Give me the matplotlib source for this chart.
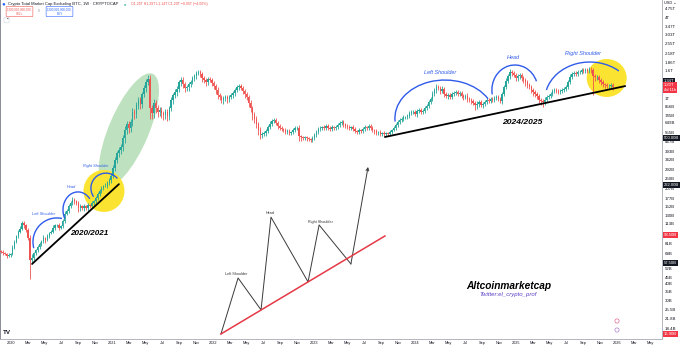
import numpy as np
import pandas as pd
import matplotlib
matplotlib.use('Agg')
import matplotlib.pyplot as plt
import matplotlib.dates as mdates
from matplotlib.patches import Ellipse, Arc
from matplotlib.ticker import NullLocator
from matplotlib.transforms import ScaledTranslation

plt.rcParams['font.family'] = ['Liberation Sans', 'DejaVu Sans']

# weekly closes in billions USD (first week = 2019-11-25)
closes = [
    69.5, 68, 67, 65, 66, 67, 75, 83, 92, 99,
    104, 115, 110, 102, 89, 60, 63, 68, 72, 76,
    80, 84, 89, 86, 92, 97, 99, 106, 110, 111,
    106, 109, 119, 135, 142, 154, 163, 171, 168, 163,
    149, 154, 149, 154, 149, 157, 154, 163, 168, 177,
    190, 200, 211, 219, 219, 230, 242, 260, 298, 342,
    386, 407, 428, 500, 575, 638, 595, 660, 785, 758,
    886, 966, 900, 1070, 1190, 1320, 1390, 841, 771, 917,
    841, 785, 812, 771, 745, 785, 732, 841, 966, 1050,
    1110, 1170, 1320, 1370, 1270, 1190, 1210, 1270, 1320, 1410,
    1460, 1540, 1570, 1520, 1410, 1370, 1320, 1390, 1370, 1300,
    1230, 1150, 1050, 1020, 966, 1000, 1020, 983, 1020, 1050,
    1090, 1150, 1210, 1230, 1190, 1130, 1070, 1020, 917, 841,
    745, 695, 638, 575, 527, 536, 546, 565, 605, 638,
    671, 683, 649, 616, 595, 585, 575, 555, 565, 546,
    555, 575, 595, 600, 515, 505, 500, 505, 498, 490,
    483, 500, 527, 555, 585, 595, 605, 595, 616, 595,
    585, 605, 595, 605, 627, 649, 660, 638, 616, 605,
    595, 605, 585, 565, 555, 575, 565, 585, 605, 595,
    616, 595, 575, 565, 546, 555, 536, 546, 536, 546,
    536, 555, 575, 595, 627, 660, 683, 695, 720, 720,
    732, 771, 785, 785, 758, 798, 812, 785, 798, 841,
    871, 933, 983, 1070, 1150, 1210, 1190, 1130, 1170, 1070,
    1040, 1050, 1020, 1070, 1090, 1110, 1070, 1090, 1040, 1020,
    1040, 983, 966, 950, 917, 886, 900, 933, 886, 900,
    933, 966, 950, 983, 966, 1000, 1020, 983, 950, 1070,
    1210, 1340, 1460, 1570, 1540, 1490, 1410, 1460, 1490, 1410,
    1370, 1320, 1250, 1210, 1150, 1110, 1070, 1040, 966, 950,
    933, 966, 1020, 1040, 1070, 1130, 1150, 1130, 1110, 1130,
    1150, 1170, 1210, 1320, 1440, 1520, 1540, 1520, 1570, 1570,
    1620, 1600, 1620, 1600, 1650, 1620, 1460, 1430, 1440, 1370,
    1320, 1270, 1250, 1230, 1230, 1250, 1200,
]
first_open = 71

# wick lengths beyond the body, percent
wick_up = [
    2, 3, 2, 2, 3, 2, 4, 3, 2, 3, 5, 4, 3, 2, 3, 4, 6, 3, 2, 3,
    3, 2, 4, 2, 3, 2, 3, 4, 3, 2, 3, 2, 4, 5, 3, 4, 3, 5, 3, 2,
    3, 4, 2, 3, 2, 3, 2, 3, 2, 4, 3, 4, 3, 2, 4, 3, 4, 5, 6, 5,
    4, 5, 6, 5, 7, 6, 5, 6, 7, 5, 6, 5, 6, 4, 5, 5, 7, 8, 6, 7,
    6, 5, 6, 5, 4, 6, 5, 4, 5, 4, 5, 6, 4, 5, 5, 4, 3, 4, 3, 4,
    3, 3, 4, 3, 4, 3, 4, 3, 4, 3, 3, 4, 5, 4, 3, 4, 3, 4, 3, 3,
    3, 4, 3, 4, 3, 4, 3, 4, 3, 5, 4, 6, 5, 4, 6, 3, 4, 3, 4, 5,
    3, 4, 3, 3, 4, 3, 2, 3, 4, 3, 2, 3, 4, 3, 5, 3, 2, 3, 2, 3,
    2, 3, 4, 3, 4, 3, 2, 3, 4, 3, 4, 3, 2, 3, 4, 3, 4, 3, 2, 3,
    3, 2, 3, 4, 2, 3, 2, 3, 4, 2, 3, 4, 3, 2, 3, 2, 3, 2, 3, 2,
    2, 3, 2, 4, 3, 4, 3, 4, 3, 2, 3, 4, 3, 4, 3, 4, 3, 4, 3, 4,
    4, 3, 4, 5, 4, 5, 4, 4, 5, 3, 4, 3, 4, 3, 4, 3, 4, 3, 4, 3,
    3, 4, 3, 4, 3, 4, 5, 4, 3, 4, 3, 4, 3, 4, 3, 4, 3, 4, 3, 4,
    4, 5, 4, 5, 3, 4, 3, 4, 3, 4, 3, 4, 3, 4, 3, 4, 3, 4, 3, 4,
    4, 5, 4, 3, 4, 3, 4, 3, 4, 3, 4, 3, 4, 4, 5, 4, 3, 4, 3, 4,
    3, 4, 3, 4, 3, 4, 3, 4, 3, 4, 3, 4, 3, 4, 3, 4, 3,
]
wick_dn = [
    2, 3, 2, 3, 2, 3, 2, 3, 2, 3, 3, 2, 4, 3, 4, 27, 6, 4, 3, 4,
    3, 4, 3, 5, 3, 4, 3, 3, 4, 3, 4, 3, 3, 4, 3, 4, 3, 4, 5, 4,
    6, 5, 4, 5, 4, 6, 4, 3, 4, 3, 3, 4, 3, 4, 3, 4, 3, 5, 4, 6,
    5, 6, 7, 6, 8, 7, 9, 6, 7, 8, 6, 7, 8, 6, 5, 6, 5, 18, 10, 8,
    9, 8, 7, 9, 8, 7, 9, 6, 5, 6, 5, 6, 5, 6, 7, 6, 5, 6, 5, 4,
    4, 5, 4, 5, 6, 5, 6, 5, 4, 6, 5, 6, 7, 6, 5, 6, 5, 6, 5, 4,
    4, 5, 4, 5, 4, 5, 6, 5, 7, 6, 8, 7, 6, 8, 7, 5, 4, 5, 4, 4,
    4, 3, 4, 5, 4, 3, 4, 3, 4, 3, 3, 4, 3, 4, 7, 6, 4, 3, 4, 3,
    4, 3, 3, 4, 3, 4, 3, 3, 4, 3, 4, 3, 4, 3, 3, 4, 3, 5, 4, 3,
    4, 3, 4, 3, 4, 3, 3, 4, 3, 4, 3, 3, 4, 5, 3, 4, 3, 4, 3, 3,
    3, 2, 3, 2, 3, 4, 3, 4, 3, 4, 3, 4, 3, 4, 3, 5, 4, 3, 4, 3,
    3, 4, 3, 4, 4, 5, 4, 5, 4, 5, 4, 5, 4, 3, 4, 3, 4, 3, 4, 5,
    4, 5, 4, 5, 4, 8, 6, 5, 4, 5, 4, 3, 4, 3, 4, 3, 4, 3, 4, 5,
    3, 4, 3, 4, 5, 4, 5, 4, 5, 4, 5, 6, 5, 4, 5, 6, 5, 6, 5, 6,
    8, 5, 4, 3, 4, 3, 4, 3, 4, 3, 4, 3, 4, 3, 4, 3, 4, 3, 4, 3,
    3, 4, 3, 4, 3, 5, 28, 6, 5, 6, 5, 4, 5, 4, 5, 4, 5,
]

# price axis labels (billions)
tick_vals = [4750, 4000, 3470, 3030, 2550, 2180, 1860, 1600, 1000, 856, 745,
             649, 555, 467, 393, 342, 292, 250, 207, 177, 152, 130, 113,
             81, 68, 52, 45, 40, 35, 30, 25.5, 21.8, 18.4]
black_marks = [1340, 500, 222, 57.5]
red_marks = [93.5, 16.9]

# drawings on the chart (date, price in billions)
trend_2020 = (['2020-03-17', '2021-01-25'], [56.5, 225])
trend_2024 = (['2023-09-14', '2026-01-30'], [509, 1230])
pattern_dates = ['2022-01-29', '2022-04-01', '2022-06-23', '2022-07-29',
                 '2022-12-10', '2023-01-19', '2023-05-14', '2023-07-15']
pattern_prices = [16.8, 44.3, 25.5, 127, 41.4, 111, 56.5, 303]
neck_dates = ['2022-01-29', '2023-09-14']
neck_prices = [16.8, 91.7]

GREEN = '#26a69a'
RED = '#ef5350'
BLUE = '#2f5bea'
YELLOW = '#fbe431'

fig = plt.figure(figsize=(6.8, 3.45), dpi=100)
ax = fig.add_axes([0, 6 / 345, 662 / 680, 339 / 345])
ax.set_yscale('log')

dates = pd.date_range('2019-11-25', periods=len(closes), freq='7D')
x = mdates.date2num(dates)
c = np.array(closes, float)
o = np.r_[first_open, c[:-1]]
hi = np.maximum(o, c) * (1 + np.array(wick_up) / 100)
lo = np.minimum(o, c) * (1 - np.array(wick_dn) / 100)
cols = np.where(c >= o, GREEN, RED)

ax.vlines(x, lo, hi, colors=cols, lw=0.6, zorder=3)
ax.bar(x, np.abs(c - o), bottom=np.minimum(o, c), width=5.0, color=cols,
       lw=0, zorder=3)


def d(s):
    return mdates.date2num(pd.Timestamp(s))


def anchored(date, price):
    # shapes sized in inches, pinned to a date/price point
    return fig.dpi_scale_trans + ScaledTranslation(d(date), price, ax.transData)


# highlight shapes
ax.add_patch(Ellipse((0, 0), 1.22, 0.40, angle=67, fc='#4caf50', alpha=0.36,
                     ec='none', transform=anchored('2021-03-02', 575), zorder=1))
ax.add_patch(Ellipse((0, 0), 0.41, 0.42, fc=YELLOW, ec='none',
                     transform=anchored('2020-12-02', 200), zorder=1))
ax.add_patch(Ellipse((0, 0), 0.40, 0.38, fc=YELLOW, ec='none',
                     transform=anchored('2025-11-24', 1414), zorder=1))

# head & shoulders arcs
arcs = [
    ('2020-06-15', 82.7, 0.48, 0.48, 78, 195),
    ('2020-08-30', 144, 0.30, 0.36, 43, 212),
    ('2020-12-09', 210, 0.30, 0.30, 40, 215),
    ('2024-04-18', 707, 1.00, 0.76, 24, 184),
    ('2024-12-27', 1149, 0.46, 0.50, 22, 191),
    ('2025-09-24', 966, 0.90, 0.76, 45, 167),
]
for dt, p, w, h, t1, t2 in arcs:
    ax.add_patch(Arc((0, 0), w, h, theta1=t1, theta2=t2, color=BLUE, lw=1.0,
                     transform=anchored(dt, p), zorder=4))

# trend lines
for ds, ps in (trend_2020, trend_2024):
    ax.plot([d(s) for s in ds], ps, color='black', lw=1.3, zorder=5,
            solid_capstyle='round')

# schematic pattern
px = [d(s) for s in pattern_dates]
ax.plot(px[:-1], pattern_prices[:-1], color='#3a3a3a', lw=0.7, zorder=4)
ax.annotate('', xy=(px[-1], pattern_prices[-1]),
            xytext=(px[-2], pattern_prices[-2]),
            arrowprops=dict(arrowstyle='->', color='#3a3a3a', lw=0.7,
                            shrinkA=0, shrinkB=0, mutation_scale=5), zorder=4)
ax.plot([d(s) for s in neck_dates], neck_prices, color='#e53945', lw=1.1,
        zorder=4)

# labels
blue_labels = [
    ('2020-04-29', 134, 'Left Shoulder', 2.8),
    ('2020-08-08', 214, 'Head', 2.8),
    ('2020-11-03', 308, 'Right Shoulder', 2.8),
    ('2024-03-31', 1568, 'Left Shoulder', 4.0),
    ('2024-12-20', 2000, 'Head', 4.0),
    ('2025-08-30', 2180, 'Right Shoulder', 4.0),
]
for dt, p, s, fs in blue_labels:
    ax.text(d(dt), p, s, color=BLUE, fontsize=fs, style='italic',
            ha='center', va='center', zorder=6)

for dt, p, s in [('2022-03-24', 47.5, 'Left Shoulder'),
                 ('2022-07-26', 136.5, 'Head'),
                 ('2023-01-22', 117, 'Right Shoulder')]:
    ax.text(d(dt), p, s, color='#333333', fontsize=2.7, ha='center',
            va='center', zorder=6)

ax.text(d('2020-10-09'), 95, '2020/2021', fontsize=5.9, weight='bold',
        style='italic', ha='center', va='center', zorder=6)
ax.text(d('2025-01-22'), 660, '2024/2025', fontsize=6.1, weight='bold',
        style='italic', ha='center', va='center', zorder=6)

# axes
ax.set_xlim(d('2019-11-22'), d('2026-06-12'))
ax.set_ylim(15.4, 5460)


def tick_fmt(v):
    return f'{v / 1000:g}T' if v >= 1000 else f'{v:g}B'


def price_fmt(v):
    return f'{v / 1000:.2f}T' if v >= 1000 else f'{v:.2f}B'


ax.set_yticks(tick_vals, [tick_fmt(v) for v in tick_vals])
ax.yaxis.set_minor_locator(NullLocator())
ax.yaxis.tick_right()
ax.tick_params(axis='y', length=0, labelsize=3.2, pad=2, colors='#131722')

ax.xaxis.set_major_locator(mdates.MonthLocator(bymonth=[1, 3, 5, 7, 9, 11]))
ax.xaxis.set_major_formatter(plt.FuncFormatter(
    lambda v, pos: mdates.num2date(v).strftime(
        '%Y' if mdates.num2date(v).month == 1 else '%b')))
ax.tick_params(axis='x', length=0, labelsize=2.8, pad=1.2, colors='#131722')

ax.spines['top'].set_visible(False)
ax.spines['left'].set_color('#8a8d96')
for side in ('right', 'bottom'):
    ax.spines[side].set_color('#b2b5be')
for sp in ax.spines.values():
    sp.set_linewidth(0.7)


def axis_box(price, text, fc):
    ax.annotate(text, xy=(1.0, price), xycoords=('axes fraction', 'data'),
                xytext=(1.2, 0), textcoords='offset points', fontsize=3.0,
                color='white', ha='left', va='center', annotation_clip=False,
                bbox=dict(boxstyle='square,pad=0.25', fc=fc, ec='none'),
                zorder=7)


for p in black_marks:
    axis_box(p, price_fmt(p), '#131722')
for p in red_marks:
    axis_box(p, price_fmt(p), '#f23645')
axis_box(c[-1], price_fmt(c[-1]) + '\n4d 11h', '#f23645')

# header
fw, fh = 680, 345
fig.text(1.5 / fw, 1 - 4 / fh, '●', color='#2962ff', fontsize=4.5, va='center')
fig.text(8 / fw, 1 - 4 / fh,
         'Crypto Total Market Cap Excluding BTC, 1W · CRYPTOCAP',
         fontsize=3.0, color='#131722', va='center')
fig.text(124 / fw, 1 - 4 / fh, '●', color=GREEN, fontsize=2.6, va='center')
chg = c[-1] - o[-1]
fig.text(131 / fw, 1 - 4 / fh,
         f'O{price_fmt(o[-1])} H{price_fmt(hi[-1])} L{price_fmt(lo[-1])} '
         f'C{price_fmt(c[-1])} {chg / 1000:+.2f}T ({chg / o[-1] * 100:+.2f}%)'
         .replace('-', '−'),
         fontsize=2.6, color=RED, va='center')
quote = f'{c[-1] * 1e9:,.0f}'
fig.text(19.5 / fw, 1 - 11.5 / fh, quote + '\nSELL', fontsize=2.2, color=RED,
         ha='center', va='center', linespacing=1.1,
         bbox=dict(boxstyle='round,pad=0.35', fc='white', ec=RED, lw=0.4))
fig.text(39 / fw, 1 - 11.5 / fh, '0', fontsize=2.2, color='#787b86',
         ha='center', va='center')
fig.text(59.5 / fw, 1 - 11.5 / fh, quote + '\nBUY', fontsize=2.2,
         color='#2962ff', ha='center', va='center', linespacing=1.1,
         bbox=dict(boxstyle='round,pad=0.35', fc='white', ec='#2962ff', lw=0.4))
fig.text(6.5 / fw, 1 - 20 / fh, '⌃', fontsize=3, color='#131722', ha='center',
         va='center', bbox=dict(boxstyle='round,pad=0.2', fc='white',
                                ec='#d1d4dc', lw=0.4))
fig.text(664 / fw, 1 - 3 / fh, 'USD ⌄', fontsize=2.8, color='#131722',
         va='center')

# watermark and logo
fig.text(509 / fw, 1 - 286 / fh, 'Altcoinmarketcap', fontsize=7.3,
         weight='bold', style='italic', ha='center', va='center')
fig.text(508 / fw, 1 - 294.5 / fh, 'Twitter:el_crypto_prof', fontsize=4.3,
         style='italic', color='#5b3fc4', ha='center', va='center')
fig.text(3 / fw, 1 - 332 / fh, 'TV', fontsize=4.5, weight='heavy',
         color='#131722', va='center')
ax.scatter([617 / 662, 617 / 662], [1 - 321 / 339, 1 - 330 / 339],
           s=9, facecolors='white', edgecolors=['#e0679a', '#b07cc6'],
           linewidths=0.5, transform=ax.transAxes, zorder=7, clip_on=False)

fig.savefig('out.png', dpi=100)
